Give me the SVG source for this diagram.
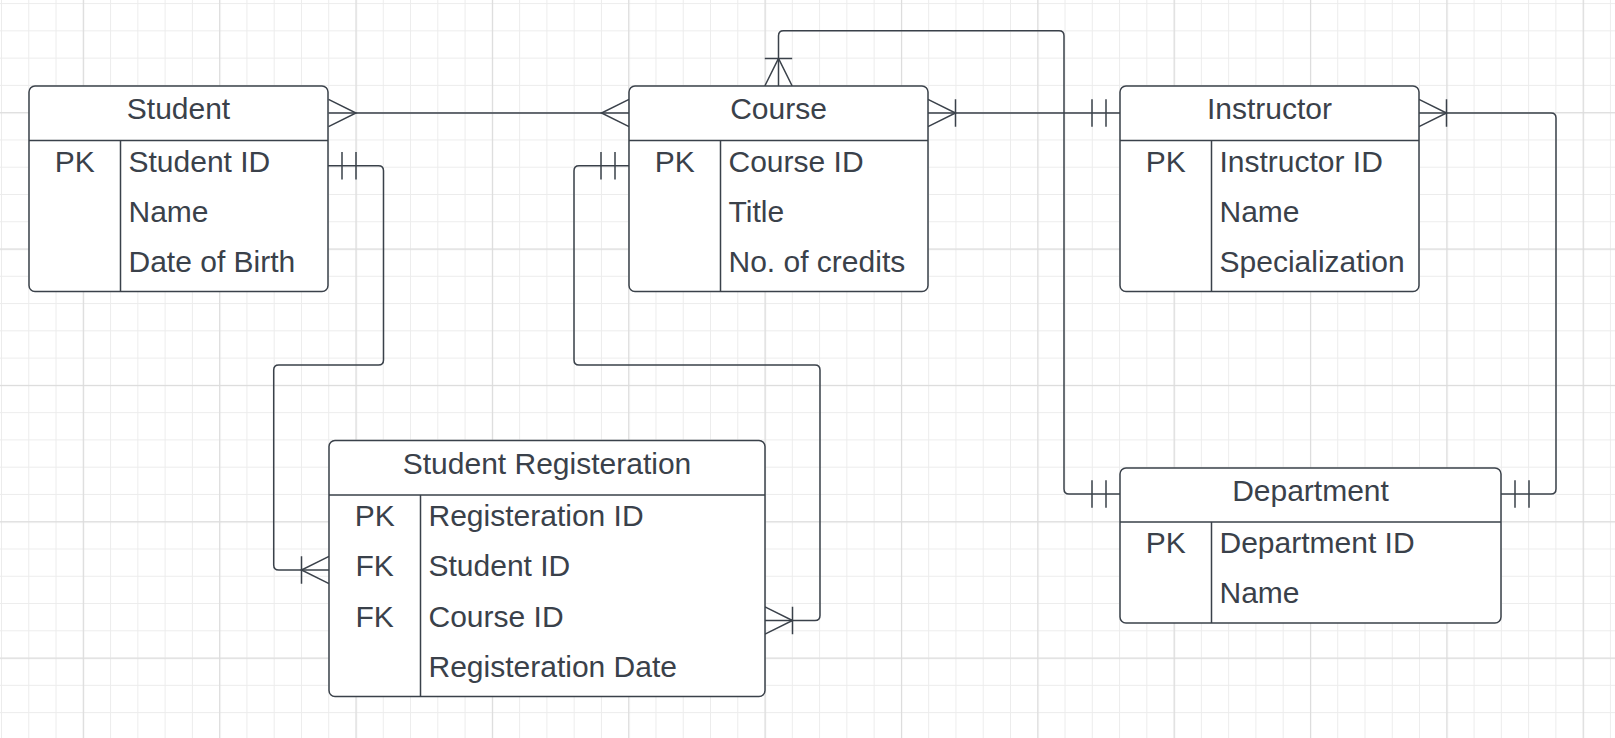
<svg xmlns="http://www.w3.org/2000/svg" width="1615" height="738" viewBox="0 0 1615 738">
<style>
.box{fill:#ffffff;stroke:#3a414a;stroke-width:1.5}
.ln{stroke:#3a414a;stroke-width:1.5;fill:none}
.t{font-family:"Liberation Sans",Arial,sans-serif;font-size:30px;fill:#3a414a}
.c{text-anchor:middle}
.conn{fill:none;stroke:#3a414a;stroke-width:1.5}
</style>
<defs>
<pattern id="gmin" patternUnits="userSpaceOnUse" x="1" y="3.1" width="27.27" height="27.27">
<rect x="0" y="0" width="1" height="27.27" fill="#ececec"/>
<rect x="0" y="0" width="27.27" height="1" fill="#ececec"/>
</pattern>
<pattern id="gmaj" patternUnits="userSpaceOnUse" x="82.8" y="112.2" width="136.36" height="136.36">
<rect x="0" y="0" width="1.2" height="136.36" fill="#dcdcdc"/>
<rect x="0" y="0" width="136.36" height="1.2" fill="#dcdcdc"/>
</pattern>
<marker id="many" markerUnits="userSpaceOnUse" orient="auto-start-reverse" refX="0" refY="0" markerWidth="1" markerHeight="1" overflow="visible">
<path d="M0,-13.7 L-27.5,0 L0,13.7" fill="none" stroke="#3a414a" stroke-width="1.5"/>
</marker>
<marker id="oneMany" markerUnits="userSpaceOnUse" orient="auto-start-reverse" refX="0" refY="0" markerWidth="1" markerHeight="1" overflow="visible">
<path d="M0,-13.7 L-27.5,0 L0,13.7 M-27.5,-13.7 V13.7" fill="none" stroke="#3a414a" stroke-width="1.5"/>
</marker>
<marker id="one" markerUnits="userSpaceOnUse" orient="auto-start-reverse" refX="0" refY="0" markerWidth="1" markerHeight="1" overflow="visible">
<path d="M-14,-13.7 V13.7 M-28,-13.7 V13.7" fill="none" stroke="#3a414a" stroke-width="1.5"/>
</marker>
</defs>
<rect x="0" y="0" width="1615" height="738" fill="#ffffff"/>
<rect x="0" y="0" width="1615" height="738" fill="url(#gmin)"/>
<rect x="0" y="0" width="1615" height="738" fill="url(#gmaj)"/>

<g id="connectors">
<path class="conn" d="M328.5,113 H629" marker-start="url(#many)" marker-end="url(#many)"/>
<path class="conn" d="M928,113 H1120" marker-start="url(#oneMany)" marker-end="url(#one)"/>
<path class="conn" d="M1419,113 H1551 Q1556,113 1556,118 V489 Q1556,494 1551,494 H1501" marker-start="url(#oneMany)" marker-end="url(#one)"/>
<path class="conn" d="M778.5,86 V35.7 Q778.5,30.7 783.5,30.7 H1059 Q1064,30.7 1064,35.7 V489 Q1064,494 1069,494 H1120" marker-start="url(#oneMany)" marker-end="url(#one)"/>
<path class="conn" d="M328,165.7 H378.5 Q383.5,165.7 383.5,170.7 V360 Q383.5,365 378.5,365 H278.7 Q273.7,365 273.7,370 V565 Q273.7,570 278.7,570 H329" marker-start="url(#one)" marker-end="url(#oneMany)"/>
<path class="conn" d="M629,165.7 H579 Q574,165.7 574,170.7 V360 Q574,365 579,365 H815 Q820,365 820,370 V615.5 Q820,620.5 815,620.5 H765" marker-start="url(#one)" marker-end="url(#oneMany)"/>
</g>

<g id="student">
<rect class="box" x="29" y="86" width="299" height="205.5" rx="6"/>
<path class="ln" d="M29,140.5 H328 M120.5,140.5 V291.5"/>
<text class="t c" x="178.5" y="119.3">Student</text>
<text class="t c" x="74.7" y="171.7">PK</text>
<text class="t" x="128.5" y="171.7">Student ID</text>
<text class="t" x="128.5" y="221.7">Name</text>
<text class="t" x="128.5" y="271.7">Date of Birth</text>
</g>

<g id="course">
<rect class="box" x="629" y="86" width="299" height="205.5" rx="6"/>
<path class="ln" d="M629,140.5 H928 M720.5,140.5 V291.5"/>
<text class="t c" x="778.5" y="119.3">Course</text>
<text class="t c" x="674.7" y="171.7">PK</text>
<text class="t" x="728.5" y="171.7">Course ID</text>
<text class="t" x="728.5" y="221.7">Title</text>
<text class="t" x="728.5" y="271.7">No. of credits</text>
</g>

<g id="instructor">
<rect class="box" x="1120" y="86" width="299" height="205.5" rx="6"/>
<path class="ln" d="M1120,140.5 H1419 M1211.5,140.5 V291.5"/>
<text class="t c" x="1269.5" y="119.3">Instructor</text>
<text class="t c" x="1165.7" y="171.7">PK</text>
<text class="t" x="1219.5" y="171.7">Instructor ID</text>
<text class="t" x="1219.5" y="221.7">Name</text>
<text class="t" x="1219.5" y="271.7">Specialization</text>
</g>

<g id="student-registeration">
<rect class="box" x="329" y="440.5" width="436" height="256" rx="6"/>
<path class="ln" d="M329,495 H765 M420.5,495 V696.5"/>
<text class="t c" x="547" y="473.5">Student Registeration</text>
<text class="t c" x="374.7" y="526">PK</text>
<text class="t" x="428.5" y="526">Registeration ID</text>
<text class="t c" x="374.7" y="576">FK</text>
<text class="t" x="428.5" y="576">Student ID</text>
<text class="t c" x="374.7" y="626.5">FK</text>
<text class="t" x="428.5" y="626.5">Course ID</text>
<text class="t" x="428.5" y="676.7">Registeration Date</text>
</g>

<g id="department">
<rect class="box" x="1120" y="468" width="381" height="155" rx="6"/>
<path class="ln" d="M1120,522 H1501 M1211.5,522 V623"/>
<text class="t c" x="1310.5" y="501">Department</text>
<text class="t c" x="1165.7" y="553.3">PK</text>
<text class="t" x="1219.5" y="553.3">Department ID</text>
<text class="t" x="1219.5" y="603.3">Name</text>
</g>
</svg>
